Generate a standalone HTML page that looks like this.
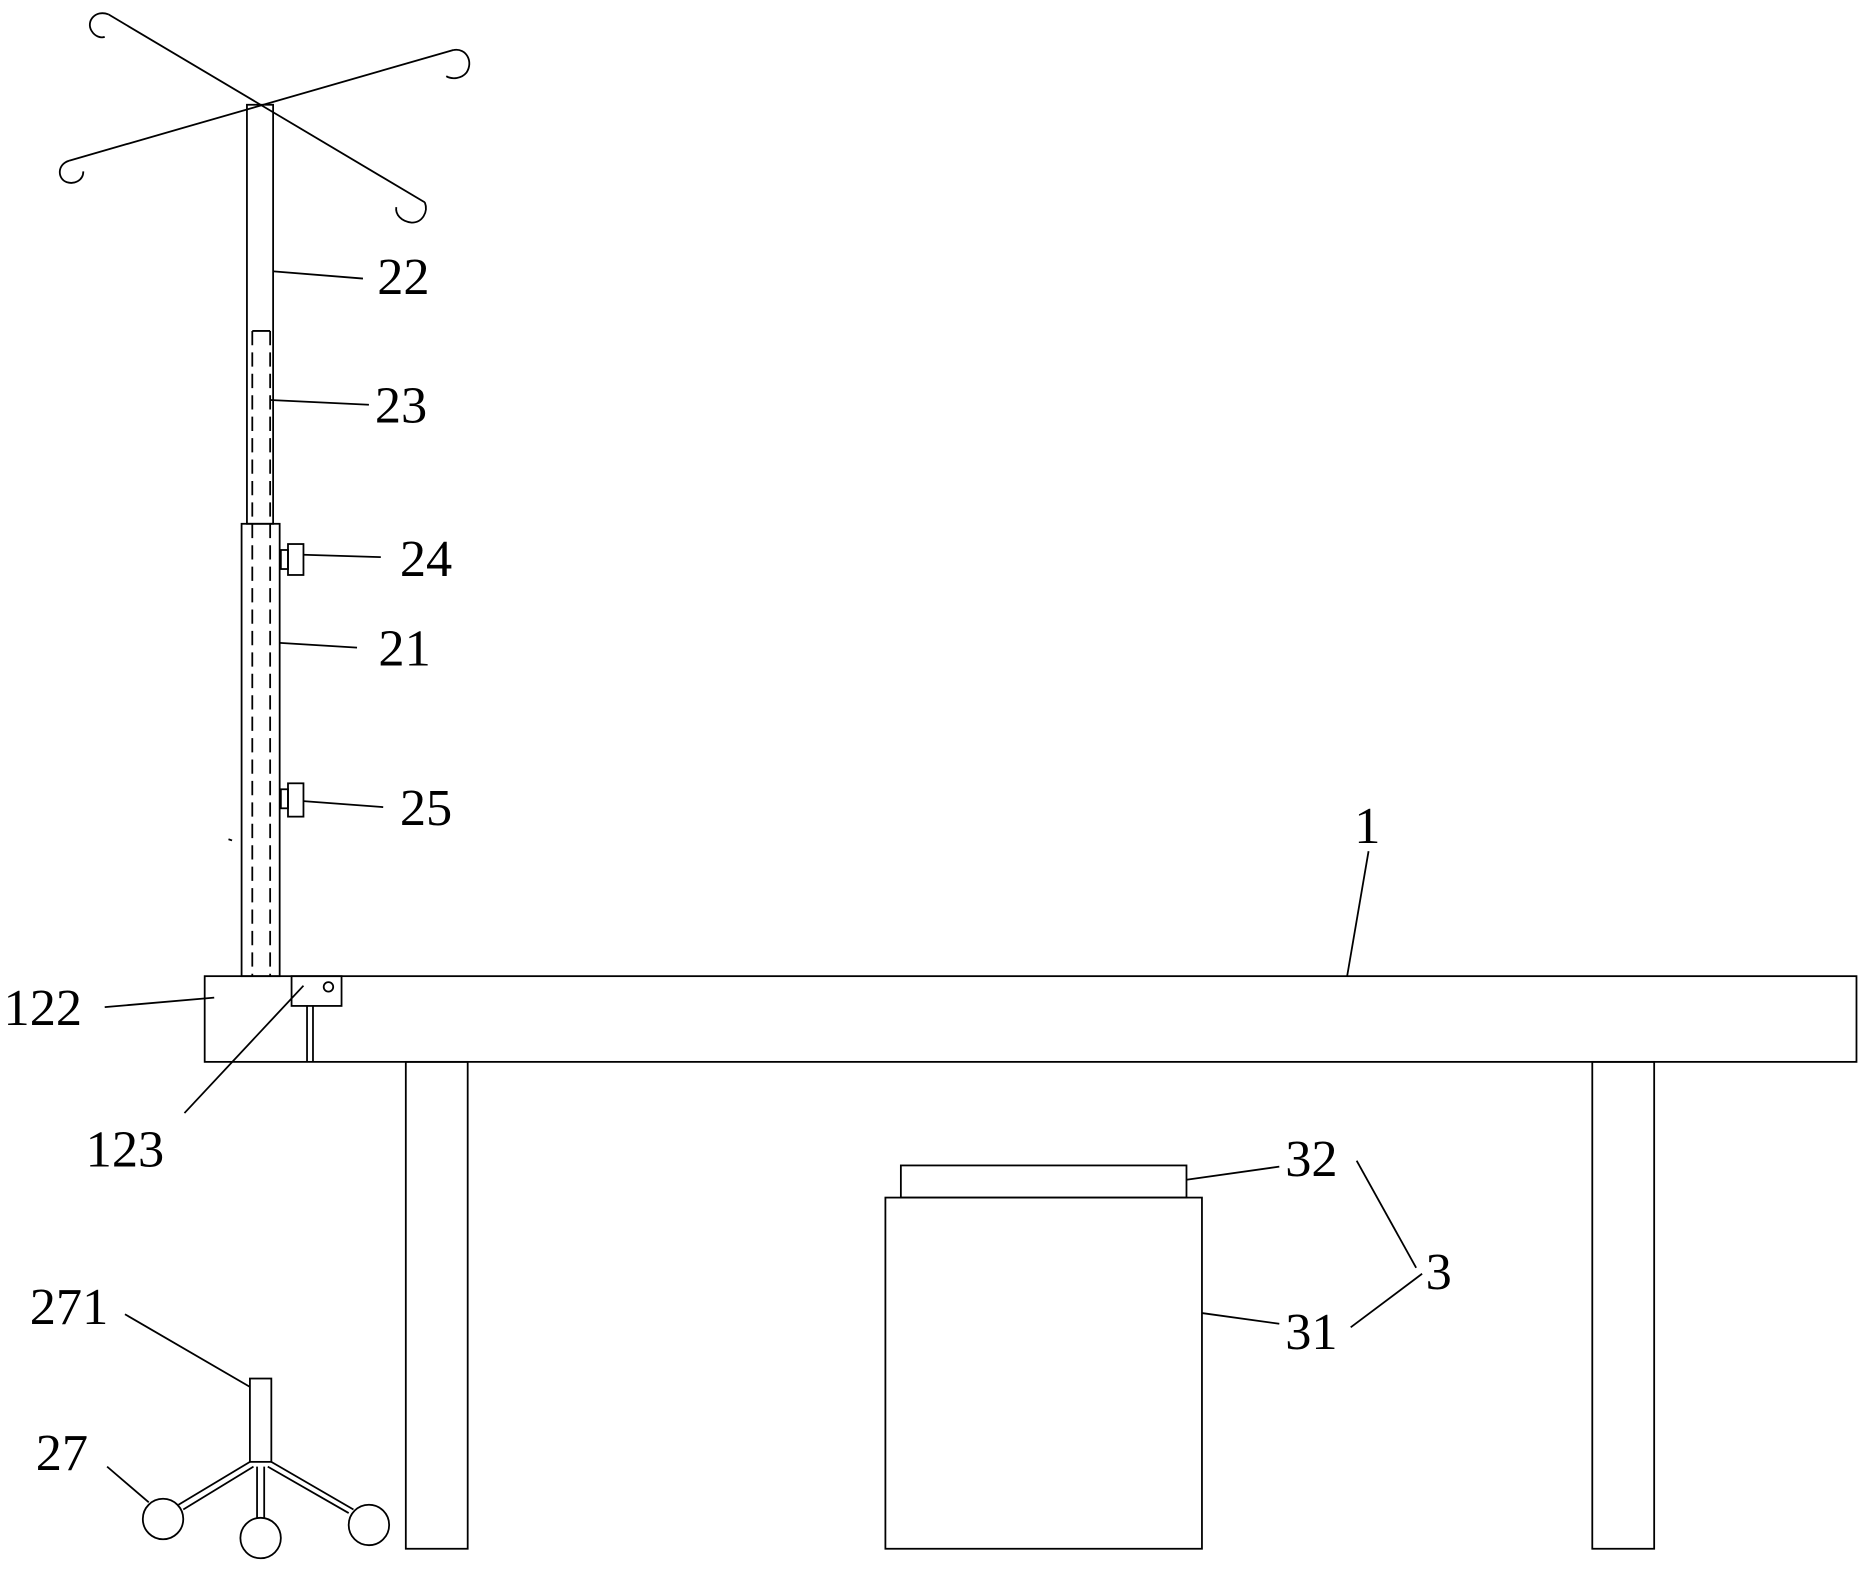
<!DOCTYPE html>
<html><head><style>html,body{margin:0;padding:0;background:#fff}svg{display:block}</style></head>
<body>
<svg width="1866" height="1569" viewBox="0 0 1568 1318" preserveAspectRatio="none" xmlns="http://www.w3.org/2000/svg">
<g fill="none" stroke="#000" stroke-width="1.5">
<line x1="91" y1="12" x2="357" y2="170"/>
<line x1="381" y1="42" x2="58" y2="135"/>
<path d="M91,12 C80,8 72,18 77,26 C80,31 85,32 88,31"/>
<path d="M381,42 C392,40 398,52 392,61 C388,66 380,67 375,64"/>
<path d="M58,135 C48,138 48,150 56,153 C62,155 70,152 70,144"/>
<path d="M357,170 C360,178 355,187 346,187 C337,186 332,180 333,174"/>
<rect x="207.5" y="88" width="22" height="352"/>
<line x1="212" y1="278" x2="227" y2="278"/>
<line x1="212" y1="278" x2="212" y2="820" stroke-dasharray="12,6"/>
<line x1="227" y1="278" x2="227" y2="820" stroke-dasharray="12,6"/>
<rect x="203" y="440" width="32" height="380"/>
<rect x="236" y="462" width="6" height="16"/><rect x="242" y="457" width="13" height="26"/>
<rect x="236" y="663" width="6" height="16"/><rect x="242" y="658" width="13" height="28"/>
<rect x="172" y="820" width="1388" height="72"/>
<rect x="245" y="820" width="42" height="25"/>
<circle cx="276" cy="829" r="4"/>
<line x1="258" y1="845" x2="258" y2="892"/><line x1="263" y1="845" x2="263" y2="892"/>
<rect x="341" y="892" width="52" height="409"/>
<rect x="1338" y="892" width="52" height="409"/>
<rect x="757" y="979" width="240" height="27"/>
<rect x="744" y="1006" width="266" height="295"/>
<rect x="210" y="1158" width="18" height="70"/>
<line x1="210" y1="1228" x2="150" y2="1264"/><line x1="213" y1="1232" x2="154" y2="1268"/>
<line x1="228" y1="1228" x2="297" y2="1268"/><line x1="225" y1="1232" x2="293" y2="1271"/>
<line x1="216" y1="1232" x2="216" y2="1276"/><line x1="222" y1="1232" x2="222" y2="1276"/>
<circle cx="137" cy="1276" r="17"/><circle cx="219" cy="1292" r="17"/><circle cx="310" cy="1281" r="17"/>
<line x1="230" y1="228" x2="305" y2="234"/>
<line x1="227" y1="336" x2="310" y2="340"/>
<line x1="255" y1="466" x2="320" y2="468"/>
<line x1="235" y1="540" x2="300" y2="544"/>
<line x1="255" y1="673" x2="322" y2="678"/>
<line x1="1150" y1="715" x2="1132" y2="820"/>
<line x1="88" y1="846" x2="180" y2="838"/>
<line x1="155" y1="935" x2="255" y2="828"/>
<line x1="997" y1="991" x2="1075" y2="980"/>
<line x1="1010" y1="1103" x2="1075" y2="1112"/>
<line x1="1140" y1="975" x2="1190" y2="1065"/>
<line x1="1135" y1="1115" x2="1195" y2="1070"/>
<line x1="105" y1="1104" x2="210" y2="1165"/>
<line x1="90" y1="1232" x2="125" y2="1262"/>
<line x1="192" y1="705" x2="195" y2="706"/>
</g>
<g font-family="'Liberation Serif',serif" font-size="44" fill="#000">
<text x="317" y="247">22</text>
<text x="315" y="355">23</text>
<text x="336" y="484">24</text>
<text x="318" y="559">21</text>
<text x="336" y="693">25</text>
<text x="1138" y="708">1</text>
<text x="3" y="861">122</text>
<text x="72" y="980">123</text>
<text x="1080" y="988">32</text>
<text x="1198" y="1083">3</text>
<text x="1080" y="1133">31</text>
<text x="25" y="1112">271</text>
<text x="30" y="1235">27</text>
</g>
</svg>
</body></html>
